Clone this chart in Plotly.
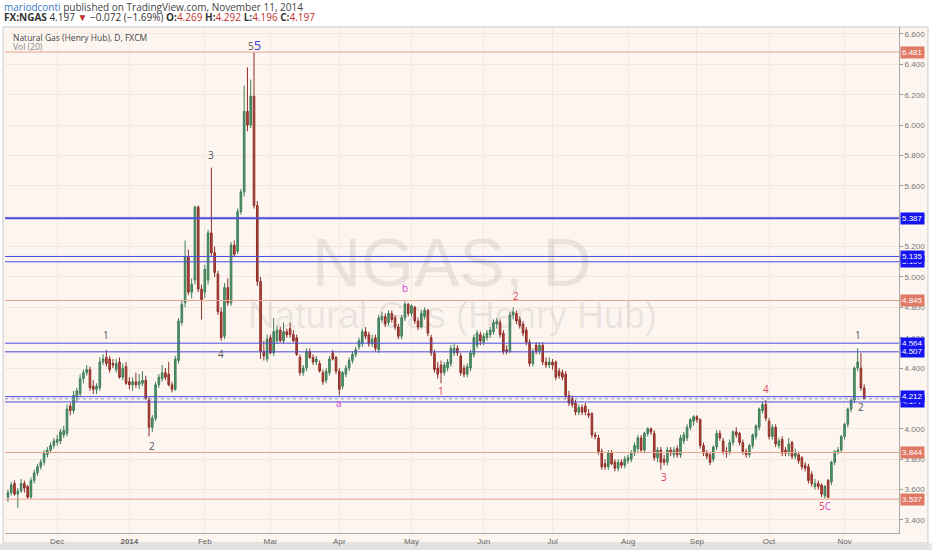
import pandas as pd
import plotly.graph_objects as go

# ---------------------------------------------------------------
# DATA  (FX:NGAS daily)
# ---------------------------------------------------------------
dates = pd.bdate_range('2013-11-11', '2014-11-11').strftime('%Y-%m-%d').tolist()

opens = [
    3.55, 3.58, 3.64, 3.57, 3.59, 3.64, 3.62, 3.55, 3.66, 3.71,
    3.75, 3.78, 3.83, 3.86, 3.89, 3.91, 3.92, 3.96, 3.97, 4.15,
    4.12, 4.21, 4.23, 4.33, 4.37, 4.39, 4.28, 4.26, 4.27, 4.44,
    4.47, 4.46, 4.43, 4.39, 4.44, 4.34, 4.41, 4.31, 4.29, 4.31,
    4.29, 4.30, 4.32, 4.19, 4.01, 4.07, 4.29, 4.33, 4.37, 4.36,
    4.29, 4.26, 4.45, 4.70, 4.83, 5.13, 4.90, 4.98, 5.46, 4.92,
    4.90, 4.98, 5.29, 5.16, 5.02, 4.77, 4.61, 4.93, 4.83, 5.21,
    5.17, 5.43, 5.56, 6.09, 6.00, 6.19, 5.47, 4.97, 4.51, 4.46,
    4.60, 4.50, 4.58, 4.65, 4.58, 4.64, 4.66, 4.62, 4.60, 4.47,
    4.37, 4.40, 4.51, 4.47, 4.44, 4.43, 4.37, 4.32, 4.37, 4.50,
    4.47, 4.38, 4.28, 4.36, 4.40, 4.45, 4.49, 4.54, 4.56, 4.64,
    4.62, 4.56, 4.60, 4.52, 4.72, 4.74, 4.70, 4.76, 4.73, 4.67,
    4.61, 4.73, 4.82, 4.76, 4.80, 4.71, 4.67, 4.74, 4.78, 4.60,
    4.50, 4.40, 4.42, 4.37, 4.40, 4.43, 4.50, 4.53, 4.48, 4.40,
    4.36, 4.40, 4.49, 4.55, 4.62, 4.57, 4.60, 4.62, 4.64, 4.69,
    4.70, 4.63, 4.52, 4.51, 4.75, 4.76, 4.72, 4.69, 4.65, 4.57,
    4.43, 4.55, 4.51, 4.55, 4.44, 4.42, 4.44, 4.44, 4.38, 4.37,
    4.36, 4.22, 4.20, 4.17, 4.11, 4.14, 4.15, 4.10, 4.10, 3.96,
    3.94, 3.85, 3.77, 3.75, 3.84, 3.78, 3.74, 3.78, 3.76, 3.79,
    3.80, 3.84, 3.87, 3.94, 3.86, 3.97, 4.00, 3.97, 3.81, 3.86,
    3.80, 3.78, 3.86, 3.83, 3.87, 3.83, 3.92, 3.94, 4.01, 4.05,
    4.08, 4.06, 3.89, 3.84, 3.83, 3.80, 3.88, 3.97, 3.92, 3.85,
    3.85, 3.91, 3.98, 3.97, 3.91, 3.85, 3.83, 3.89, 3.95, 4.01,
    4.12, 4.16, 4.05, 3.95, 4.01, 3.89, 3.93, 3.86, 3.84, 3.91,
    3.82, 3.83, 3.81, 3.76, 3.75, 3.70, 3.62, 3.64, 3.63, 3.56,
    3.66, 3.65, 3.78, 3.85, 3.86, 3.95, 4.03, 4.13, 4.19, 4.40,
    4.40, 4.269,
]
highs = [
    3.60, 3.65, 3.66, 3.61, 3.67, 3.66, 3.63, 3.68, 3.73, 3.77,
    3.80, 3.86, 3.88, 3.91, 3.94, 3.96, 4.00, 4.02, 4.16, 4.17,
    4.25, 4.27, 4.36, 4.39, 4.42, 4.41, 4.32, 4.30, 4.47, 4.49,
    4.52, 4.48, 4.46, 4.46, 4.47, 4.43, 4.44, 4.34, 4.34, 4.37,
    4.36, 4.38, 4.35, 4.21, 4.09, 4.31, 4.36, 4.42, 4.40, 4.44,
    4.31, 4.48, 4.73, 4.85, 5.24, 5.18, 4.99, 5.47, 5.47, 4.95,
    5.08, 5.31, 5.72, 5.20, 5.04, 4.80, 4.96, 4.99, 5.23, 5.24,
    5.45, 5.58, 6.26, 6.38, 6.30, 6.48, 5.50, 5.00, 4.58, 4.62,
    4.62, 4.73, 4.68, 4.67, 4.70, 4.66, 4.70, 4.65, 4.62, 4.49,
    4.42, 4.53, 4.53, 4.49, 4.48, 4.45, 4.39, 4.40, 4.48, 4.52,
    4.48, 4.40, 4.38, 4.42, 4.47, 4.51, 4.54, 4.60, 4.66, 4.67,
    4.64, 4.62, 4.62, 4.75, 4.77, 4.76, 4.78, 4.78, 4.75, 4.69,
    4.75, 4.84, 4.83, 4.82, 4.81, 4.73, 4.78, 4.80, 4.79, 4.62,
    4.52, 4.44, 4.45, 4.44, 4.46, 4.55, 4.56, 4.55, 4.50, 4.42,
    4.43, 4.52, 4.62, 4.65, 4.64, 4.63, 4.65, 4.67, 4.72, 4.73,
    4.72, 4.65, 4.55, 4.77, 4.80, 4.78, 4.74, 4.71, 4.67, 4.59,
    4.53, 4.57, 4.57, 4.57, 4.47, 4.47, 4.46, 4.45, 4.40, 4.39,
    4.38, 4.25, 4.22, 4.19, 4.16, 4.16, 4.17, 4.13, 4.11, 3.98,
    3.96, 3.87, 3.80, 3.86, 3.86, 3.80, 3.80, 3.80, 3.82, 3.83,
    3.86, 3.91, 3.96, 3.96, 3.98, 4.01, 4.01, 3.99, 3.88, 3.88,
    3.83, 3.88, 3.88, 3.88, 3.89, 3.96, 3.98, 4.03, 4.07, 4.09,
    4.09, 4.07, 3.91, 3.86, 3.85, 3.89, 3.99, 3.99, 3.94, 3.88,
    3.93, 3.99, 4.01, 3.98, 3.93, 3.87, 3.90, 3.97, 4.03, 4.14,
    4.18, 4.19, 4.07, 4.03, 4.03, 3.94, 3.95, 3.88, 3.94, 3.92,
    3.87, 3.85, 3.82, 3.78, 3.77, 3.72, 3.67, 3.66, 3.64, 3.63,
    3.67, 3.79, 3.86, 3.88, 3.96, 4.04, 4.14, 4.20, 4.41, 4.53,
    4.50, 4.292,
]
lows = [
    3.52, 3.56, 3.56, 3.48, 3.58, 3.58, 3.54, 3.54, 3.64, 3.69,
    3.73, 3.76, 3.81, 3.84, 3.87, 3.89, 3.90, 3.94, 3.95, 4.09,
    4.10, 4.18, 4.21, 4.30, 4.35, 4.25, 4.23, 4.23, 4.25, 4.42,
    4.41, 4.37, 4.40, 4.37, 4.33, 4.32, 4.29, 4.26, 4.25, 4.27,
    4.26, 4.28, 4.19, 3.95, 3.98, 4.05, 4.27, 4.31, 4.32, 4.28,
    4.24, 4.25, 4.43, 4.68, 4.80, 4.88, 4.86, 4.95, 4.90, 4.72,
    4.86, 4.95, 5.14, 5.00, 4.75, 4.58, 4.59, 4.81, 4.81, 5.13,
    5.15, 5.41, 5.53, 5.96, 5.98, 5.45, 4.94, 4.46, 4.45, 4.44,
    4.49, 4.48, 4.56, 4.57, 4.56, 4.60, 4.60, 4.57, 4.48, 4.35,
    4.35, 4.38, 4.46, 4.42, 4.42, 4.37, 4.29, 4.30, 4.35, 4.45,
    4.36, 4.22, 4.26, 4.34, 4.38, 4.43, 4.47, 4.52, 4.54, 4.59,
    4.54, 4.54, 4.51, 4.50, 4.70, 4.67, 4.68, 4.70, 4.65, 4.59,
    4.59, 4.71, 4.74, 4.74, 4.69, 4.65, 4.66, 4.72, 4.61, 4.48,
    4.37, 4.33, 4.30, 4.35, 4.38, 4.41, 4.48, 4.48, 4.35, 4.34,
    4.34, 4.38, 4.47, 4.53, 4.55, 4.55, 4.58, 4.60, 4.62, 4.66,
    4.60, 4.49, 4.49, 4.50, 4.72, 4.69, 4.66, 4.61, 4.55, 4.41,
    4.41, 4.49, 4.49, 4.42, 4.40, 4.40, 4.39, 4.32, 4.33, 4.32,
    4.20, 4.15, 4.14, 4.09, 4.09, 4.09, 4.09, 4.07, 3.94, 3.93,
    3.83, 3.73, 3.73, 3.73, 3.76, 3.72, 3.72, 3.74, 3.74, 3.77,
    3.78, 3.82, 3.85, 3.84, 3.84, 3.95, 3.96, 3.79, 3.78, 3.73,
    3.76, 3.76, 3.82, 3.81, 3.81, 3.81, 3.90, 3.92, 3.99, 4.02,
    4.04, 3.87, 3.82, 3.80, 3.76, 3.78, 3.86, 3.92, 3.83, 3.81,
    3.83, 3.89, 3.94, 3.89, 3.83, 3.81, 3.81, 3.87, 3.93, 3.99,
    4.10, 4.05, 3.93, 3.93, 3.88, 3.87, 3.82, 3.82, 3.82, 3.80,
    3.80, 3.77, 3.73, 3.72, 3.64, 3.62, 3.60, 3.60, 3.55, 3.54,
    3.54, 3.63, 3.76, 3.83, 3.84, 3.93, 4.01, 4.11, 4.17, 4.38,
    4.25, 4.196,
]
closes = [
    3.58, 3.63, 3.57, 3.59, 3.64, 3.61, 3.55, 3.66, 3.71, 3.75,
    3.78, 3.84, 3.86, 3.89, 3.92, 3.93, 3.98, 3.99, 4.13, 4.12,
    4.22, 4.25, 4.33, 4.37, 4.39, 4.27, 4.26, 4.28, 4.44, 4.46,
    4.43, 4.39, 4.42, 4.43, 4.34, 4.40, 4.30, 4.29, 4.31, 4.29,
    4.31, 4.32, 4.20, 4.01, 4.07, 4.29, 4.34, 4.37, 4.34, 4.29,
    4.26, 4.46, 4.71, 4.82, 5.13, 4.90, 4.95, 5.46, 4.92, 4.85,
    5.05, 5.29, 5.16, 5.03, 4.77, 4.60, 4.93, 4.83, 5.21, 5.15,
    5.43, 5.56, 6.09, 6.00, 6.19, 5.47, 4.97, 4.51, 4.48, 4.59,
    4.50, 4.64, 4.65, 4.58, 4.64, 4.62, 4.62, 4.58, 4.49, 4.37,
    4.40, 4.51, 4.47, 4.44, 4.46, 4.38, 4.31, 4.38, 4.46, 4.46,
    4.38, 4.26, 4.37, 4.40, 4.45, 4.49, 4.52, 4.58, 4.64, 4.61,
    4.56, 4.59, 4.53, 4.73, 4.74, 4.69, 4.76, 4.72, 4.67, 4.61,
    4.73, 4.82, 4.76, 4.81, 4.71, 4.67, 4.76, 4.78, 4.63, 4.50,
    4.39, 4.36, 4.37, 4.42, 4.44, 4.53, 4.53, 4.50, 4.37, 4.36,
    4.41, 4.50, 4.60, 4.63, 4.58, 4.61, 4.63, 4.65, 4.70, 4.71,
    4.62, 4.51, 4.51, 4.75, 4.77, 4.71, 4.68, 4.63, 4.57, 4.43,
    4.51, 4.51, 4.55, 4.44, 4.42, 4.44, 4.42, 4.34, 4.35, 4.34,
    4.22, 4.17, 4.16, 4.11, 4.14, 4.11, 4.11, 4.09, 3.96, 3.95,
    3.85, 3.75, 3.75, 3.84, 3.77, 3.74, 3.78, 3.76, 3.80, 3.81,
    3.84, 3.89, 3.94, 3.86, 3.97, 4.00, 3.98, 3.81, 3.86, 3.78,
    3.78, 3.86, 3.84, 3.86, 3.83, 3.94, 3.96, 4.01, 4.06, 4.08,
    4.06, 3.89, 3.84, 3.82, 3.78, 3.88, 3.97, 3.94, 3.85, 3.84,
    3.91, 3.98, 3.96, 3.91, 3.85, 3.83, 3.89, 3.96, 4.02, 4.13,
    4.16, 4.07, 3.95, 4.01, 3.90, 3.92, 3.84, 3.84, 3.90, 3.82,
    3.84, 3.79, 3.75, 3.74, 3.66, 3.64, 3.64, 3.62, 3.57, 3.62,
    3.55, 3.78, 3.85, 3.86, 3.95, 4.03, 4.13, 4.19, 4.40, 4.44,
    4.269, 4.197,
]

month_ticks = ['2013-12-02', '2014-01-01', '2014-02-03', '2014-03-03', '2014-04-01', '2014-05-01',
               '2014-06-02', '2014-07-01', '2014-08-01', '2014-09-01', '2014-10-01', '2014-11-03']
month_labels = ['Dec', '<b>2014</b>', 'Feb', 'Mar', 'Apr', 'May',
                'Jun', 'Jul', 'Aug', 'Sep', 'Oct', 'Nov']
price_ticks = [3.4, 3.6, 3.8, 4.0, 4.2, 4.4, 4.6, 4.8, 5.0, 5.2, 5.4, 5.6, 5.8, 6.0, 6.2, 6.4, 6.6]

# horizontal levels drawn by the author
blue_levels = [5.100, 4.177, 5.387, 5.135, 4.564, 4.507, 4.212]
red_levels = [6.481, 4.845, 3.844, 3.537]
last_close = 4.197

# Elliott wave counts
wave_text = ['1', '2', '3', '4',
             '<span style="color:#555">5</span><span style="color:#3d3dd8;font-size:13px">5</span>',
             'a', 'b', '1', '2', '3', '4',
             '<span style="color:#e0405a">5</span><span style="color:#d63fd6">C</span>',
             '1', '2']
wave_dates = ['2013-12-23', '2014-01-10', '2014-02-05', '2014-02-10', '2014-02-24',
              '2014-04-01', '2014-04-29', '2014-05-14', '2014-06-16', '2014-08-18', '2014-09-30',
              '2014-10-24', '2014-11-07', '2014-11-10']
wave_prices = [4.62, 3.89, 5.80, 4.49, 6.53, 4.17, 4.93, 4.25, 4.875, 3.68, 4.26, 3.49, 4.62, 4.145]
wave_colors = ['#555555', '#555555', '#555555', '#555555', '#555555',
               '#d63fd6', '#d63fd6', '#e0405a', '#e0405a', '#e0405a', '#e0405a',
               '#e0405a', '#555555', '#555555']

# ---------------------------------------------------------------
# STYLE
# ---------------------------------------------------------------
PEACH = '#fdf6f0'
GRID = '#f3e8df'
BLUE = '#4b4bdc'
BLUE_TAG = '#1414f0'
SALMON = '#eba290'
SALMON_TAG = '#e07a66'
UP = '#4f9a6c'
DOWN = '#b3443a'
FONT = 'Open Sans, Liberation Sans, sans-serif'

fig = go.Figure()

fig.add_trace(go.Candlestick(
    x=dates, open=opens, high=highs, low=lows, close=closes,
    increasing=dict(fillcolor=UP, line=dict(color='#3f7d57', width=1)),
    decreasing=dict(fillcolor=DOWN, line=dict(color='#8e2f27', width=1)),
    whiskerwidth=0,
    showlegend=False,
    hoverinfo='x+y',
))

shapes = [
    # chart frame
    dict(type='rect', xref='paper', yref='paper', x0=-0.0022, x1=1.0324, y0=-0.0198, y1=1.0,
         fillcolor=PEACH, line=dict(color='#c9c9c9', width=1), layer='below'),
    dict(type='rect', xref='paper', yref='paper', x0=-0.01, x1=1.04, y0=-0.04, y1=-0.0205,
         fillcolor='#e3e3e3', line=dict(width=0), layer='below'),
]
for lv in red_levels:
    shapes.append(dict(type='line', xref='paper', x0=0, x1=1, yref='y', y0=lv, y1=lv,
                       line=dict(color=SALMON, width=1), layer='above'))
for lv in blue_levels:
    shapes.append(dict(type='line', xref='paper', x0=0, x1=1, yref='y', y0=lv, y1=lv,
                       line=dict(color=BLUE, width=2 if lv == 5.387 else 1), layer='above'))
shapes.append(dict(type='line', xref='paper', x0=0, x1=1, yref='y', y0=last_close, y1=last_close,
                   line=dict(color='#8f9ccc', width=1, dash='dot'), layer='above'))

annotations = []

# watermark
annotations.append(dict(xref='paper', yref='paper', x=0.5, y=0.5356, text='NGAS, D',
                        showarrow=False, font=dict(family='Liberation Sans', size=68,
                                                   color='rgba(110,100,95,0.13)')))
annotations.append(dict(xref='paper', yref='paper', x=0.5, y=0.4289, text='Natural Gas (Henry Hub)',
                        showarrow=False, font=dict(family='Liberation Sans', size=37,
                                                   color='rgba(110,100,95,0.13)')))

# header
annotations.append(dict(
    xref='paper', yref='paper', x=-0.0034, y=1.0395, xanchor='left', yanchor='middle', showarrow=False,
    text='<span style="color:#3b78c8">mariodconti</span> published on TradingView.com, November 11, 2014',
    font=dict(family=FONT, size=10, color='#444444')))
annotations.append(dict(
    xref='paper', yref='paper', x=-0.0034, y=1.0198, xanchor='left', yanchor='middle', showarrow=False,
    text=('<b>FX:NGAS</b> 4.197 <span style="color:#c0302a">▼</span> −0.072 (−1.69%) '
          '<b>O:</b><span style="color:#c0302a">4.269</span> <b>H:</b><span style="color:#c0302a">4.292</span> '
          '<b>L:</b><span style="color:#c0302a">4.196</span> <b>C:</b><span style="color:#c0302a">4.197</span>'),
    font=dict(family=FONT, size=10, color='#333333')))
annotations.append(dict(xref='paper', yref='paper', x=0.0067, y=0.980, xanchor='left', yanchor='middle',
                        showarrow=False, text='Natural Gas (Henry Hub), D, FXCM',
                        font=dict(family=FONT, size=8.5, color='#444444')))
annotations.append(dict(xref='paper', yref='paper', x=0.0067, y=0.9605, xanchor='left', yanchor='middle',
                        showarrow=False, text='Vol (20)',
                        font=dict(family=FONT, size=8.5, color='#888888')))

# wave labels
for txt, d, p, c in zip(wave_text, wave_dates, wave_prices, wave_colors):
    annotations.append(dict(x=d, y=p, xref='x', yref='y', text=txt, showarrow=False,
                            font=dict(family=FONT, size=10, color=c)))

# price tags on the right axis
for lv in red_levels:
    annotations.append(dict(xref='paper', x=1, xanchor='left', xshift=1, yref='y', y=lv,
                            text=f'{lv:.3f}', showarrow=False, bgcolor=SALMON_TAG, borderpad=1,
                            font=dict(family='Liberation Sans', size=8, color='white')))
for lv in blue_levels:
    annotations.append(dict(xref='paper', x=1, xanchor='left', xshift=1, yref='y', y=lv,
                            text=f'{lv:.3f}', showarrow=False, bgcolor=BLUE_TAG, borderpad=1,
                            font=dict(family='Liberation Sans', size=8, color='white')))

fig.update_layout(
    width=932, height=550, autosize=False,
    margin=dict(l=5, r=33, t=27, b=17),
    paper_bgcolor='#ffffff',
    plot_bgcolor='rgba(0,0,0,0)',
    font=dict(family=FONT, color='#666666', size=8),
    shapes=shapes,
    annotations=annotations,
    showlegend=False,
    xaxis=dict(
        type='category', range=[-0.9, 271.6],
        tickvals=month_ticks, ticktext=month_labels,
        tickfont=dict(family='Liberation Sans', size=8, color='#666666'),
        showgrid=True, gridcolor=GRID, gridwidth=1,
        showline=True, linecolor='#a8a8a8', linewidth=1,
        ticks='', rangeslider=dict(visible=False), fixedrange=True,
    ),
    yaxis=dict(
        side='right', range=[3.314, 6.646],
        tickvals=price_ticks, tickformat='.3f',
        tickfont=dict(family='Liberation Sans', size=8, color='#777777'),
        showgrid=True, gridcolor=GRID, gridwidth=1, zeroline=False,
        showline=True, linecolor='#a8a8a8', linewidth=1,
        ticks='outside', ticklen=3, tickcolor='#999999',
    ),
)

# the page's default 8px body margin would push the 932x550 figure out of the window
fig.write_html("out.html", config={'displayModeBar': False},
               post_script="document.body.style.margin = '0';")
